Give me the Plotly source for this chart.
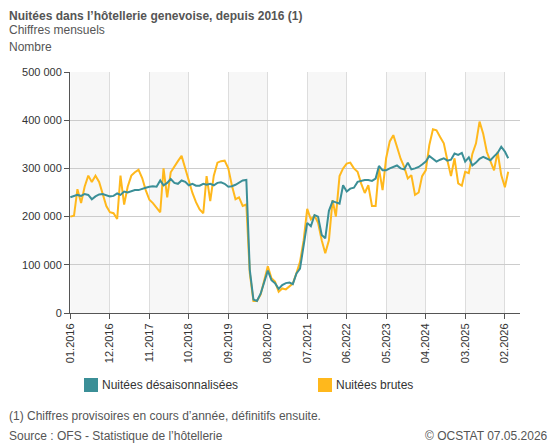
import plotly.graph_objects as go
import pandas as pd

months = pd.date_range("2016-01-01", periods=123, freq="MS")

brutes = [200,202,257,228,262,285,272,285,272,245,222,209,
          207,195,285,225,262,285,292,297,280,255,235,228,
          218,209,300,240,292,305,315,326,300,270,249,230,
          215,207,284,232,285,312,315,316,300,265,236,240,
          222,225,83,25,25,38,70,97,72,65,44,51,
          49,55,61,83,106,151,216,194,202,187,151,124,
          151,234,200,284,300,310,312,300,293,269,249,
          265,222,222,300,255,321,356,369,345,320,303,279,
          286,245,250,284,296,348,381,379,365,352,317,284,
          321,269,264,293,290,330,352,397,372,334,315,296,
          334,286,261,293]
desais = [240,242,245,243,247,245,236,242,246,247,245,242,
          243,248,245,252,250,252,255,255,258,260,262,263,
          262,275,265,270,278,270,268,275,272,265,268,264,
          264,268,266,268,265,270,271,268,262,263,266,270,
          275,276,90,28,25,40,62,88,68,62,50,58,
          62,63,60,82,92,137,187,180,203,200,162,155,
          212,232,230,227,265,252,258,260,272,274,276,276,
          274,279,305,296,296,300,303,306,300,298,312,298,
          300,303,308,314,326,320,314,318,321,316,318,331,
          328,332,314,323,306,312,320,324,320,317,325,332,
          345,335,321]
tick_idx = list(range(0, 123, 11))
tick_vals = [months[i] for i in tick_idx]
tick_text = [m.strftime("%m.%Y") for m in tick_vals]

teal = "#3b8f97"
yellow = "#ffb81c"
fig = go.Figure()
fig.add_trace(go.Scatter(x=months[:len(brutes)], y=[v*1000 for v in brutes], mode="lines",
                         line=dict(color=yellow, width=2), name="Nuitées brutes"))
fig.add_trace(go.Scatter(x=months[:len(desais)], y=[v*1000 for v in desais], mode="lines",
                         line=dict(color=teal, width=2), name="Nuitées désaisonnalisées"))

OFF = 8  # page body margin
W, H = 557 - OFF, 447 - OFF
L, R, T, B = 70 - OFF, 37, 72 - OFF, 134
pw, ph = W - L - R, H - T - B
def px(x): return (x - OFF - L) / pw
def py(ytop): return (H - B - (ytop - OFF)) / ph

shapes = []
for k in range(0, len(tick_vals) - 1, 2):
    shapes.append(dict(type="rect", xref="x", yref="paper", x0=tick_vals[k], x1=tick_vals[k+1],
                       y0=0, y1=1, fillcolor="#f7f7f7", line=dict(width=0), layer="below"))
shapes.append(dict(type="rect", xref="paper", yref="paper", x0=px(84), x1=px(98),
                   y0=py(392), y1=py(378), fillcolor=teal, line=dict(width=0)))
shapes.append(dict(type="rect", xref="paper", yref="paper", x0=px(318), x1=px(332),
                   y0=py(392), y1=py(378), fillcolor=yellow, line=dict(width=0)))

ann = [
    ("<b>Nuitées dans l’hôtellerie genevoise, depuis 2016 (1)</b>", 8, 8, "left", "top"),
    ("Chiffres mensuels", 8, 30, "left", "middle"),
    ("Nombre", 8, 47, "left", "middle"),
    ("Nuitées désaisonnalisées", 101, 385, "left", "middle"),
    ("Nuitées brutes", 335, 385, "left", "middle"),
    ("(1) Chiffres provisoires en cours d’année, définitifs ensuite.", 8, 416, "left", "middle"),
    ("Source : OFS - Statistique de l’hôtellerie", 8, 436, "left", "middle"),
    ("© OCSTAT 07.05.2026", 549, 436, "right", "middle"),
]
annotations = [dict(text=t, x=px(x), y=py(y), xref="paper", yref="paper", xanchor=a,
                    yanchor=va, showarrow=False, borderpad=0,
                    font=dict(size=12, color="#555" if i not in (3, 4) else "#333"))
               for i, (t, x, y, a, va) in enumerate(ann)]

fig.update_layout(
    width=W, height=H, margin=dict(l=L, r=R, t=T, b=B),
    paper_bgcolor="white", plot_bgcolor="white", showlegend=False,
    font=dict(family="Arial, Liberation Sans, sans-serif", size=11, color="#333"),
    shapes=shapes, annotations=annotations,
    xaxis=dict(tickvals=tick_vals, ticktext=tick_text, tickangle=-90, showgrid=True,
               gridcolor="#dddddd", showline=True, linecolor="#555", ticks="outside",
               tickcolor="#555", ticklen=5,
               range=[months[0] - pd.Timedelta(days=3), months[-1] + pd.Timedelta(days=100)],
               tickfont=dict(size=11, color="#333")),
    yaxis=dict(range=[0, 500000], tickvals=[0, 100000, 200000, 300000, 400000, 500000],
               ticktext=["0", "100 000", "200 000", "300 000", "400 000", "500 000"],
               showgrid=True, gridcolor="#cccccc", showline=True, linecolor="#555",
               ticks="outside", tickcolor="#555", ticklen=5, zeroline=False,
               tickfont=dict(size=11, color="#333")),
)
fig.write_html("out.html")
